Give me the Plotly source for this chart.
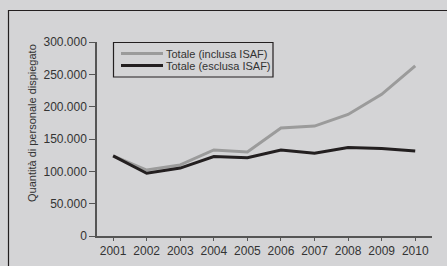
import plotly.graph_objects as go

years = [2001, 2002, 2003, 2004, 2005, 2006, 2007, 2008, 2009, 2010]
inclusa = [124000, 102000, 110000, 133000, 130000, 167000, 170000, 188000, 219000, 263000]
esclusa = [124000, 97000, 105000, 123000, 121000, 133000, 128000, 137000, 135500, 131500]
y_ticks = [0, 50000, 100000, 150000, 200000, 250000, 300000]
y_ticktext = ["0", "50.000", "100.000", "150.000", "200.000", "250.000", "300.000"]
names = ["Totale (inclusa ISAF)", "Totale (esclusa ISAF)"]
y_title = "Quantità di personale dispiegato"
colors = ["#9b9b9b", "#231f20"]

BG = "#d4d4d6"
DARK = "#231f20"
TXT = "#333333"
FONT = "Liberation Sans, Arial, sans-serif"

fig = go.Figure()
for name, vals, col in zip(names, [inclusa, esclusa], colors):
    fig.add_trace(go.Scatter(x=years, y=vals, mode="lines", name=name,
                             line=dict(color=col, width=3), showlegend=False,
                             hoverinfo="skip"))

W, H = 447, 266
L, R, T, B = 97, 15, 42, 30
pw, ph = W - L - R, H - T - B

def px_x(px):
    return (px - L) / pw

def px_y(py):
    return (H - B - py) / ph

shapes = [
    # outer frame
    dict(type="rect", xref="paper", yref="paper",
         x0=px_x(8.5), x1=px_x(460), y0=px_y(280), y1=px_y(10.5),
         line=dict(color=DARK, width=1.2), layer="below"),
    # legend box
    dict(type="rect", xref="paper", yref="paper",
         x0=px_x(113.5), x1=px_x(273), y0=px_y(77), y1=px_y(42.5),
         line=dict(color=DARK, width=1.2), fillcolor=BG, layer="above"),
]
annotations = [dict(text=y_title, xref="paper", yref="paper",
                    x=px_x(32), y=px_y(123), xanchor="center", yanchor="middle",
                    textangle=-90, showarrow=False,
                    font=dict(size=11, color=TXT))]
for i, (name, col) in enumerate(zip(names, colors)):
    ly = [53.5, 65.5][i]
    shapes.append(dict(type="line", xref="paper", yref="paper",
                       x0=px_x(121), x1=px_x(163), y0=px_y(ly), y1=px_y(ly),
                       line=dict(color=col, width=3), layer="above"))
    annotations.append(dict(text=name, xref="paper", yref="paper",
                            x=px_x(164), y=px_y(ly), xanchor="left", yanchor="middle",
                            showarrow=False, font=dict(size=11, color=TXT)))

fig.update_layout(
    width=W, height=H,
    margin=dict(l=L, r=R, t=T, b=B, pad=0),
    paper_bgcolor=BG, plot_bgcolor=BG,
    font=dict(family=FONT, color=TXT, size=11),
    showlegend=False,
    hovermode=False,
    xaxis=dict(range=[2000.52, 2010.5], tickvals=years, showgrid=False,
               zeroline=False, showline=True, linecolor="#555555", linewidth=1.5,
               ticks="outside", ticklen=3, tickcolor="#555555", automargin=False,
               tickfont=dict(size=12, color=TXT)),
    yaxis=dict(range=[0, 300000], tickvals=y_ticks, ticktext=y_ticktext,
               showgrid=False, zeroline=False, showline=True, linecolor="#555555",
               linewidth=1.5, ticks="outside", ticklen=6, tickcolor="#555555",
               automargin=False,
               tickfont=dict(size=12, color=TXT)),
    shapes=shapes,
    annotations=annotations,
)

fig.write_html("out.html",
               config={"displayModeBar": False},
               post_script="document.body.style.margin='0';document.body.style.background='#d4d4d6';")
